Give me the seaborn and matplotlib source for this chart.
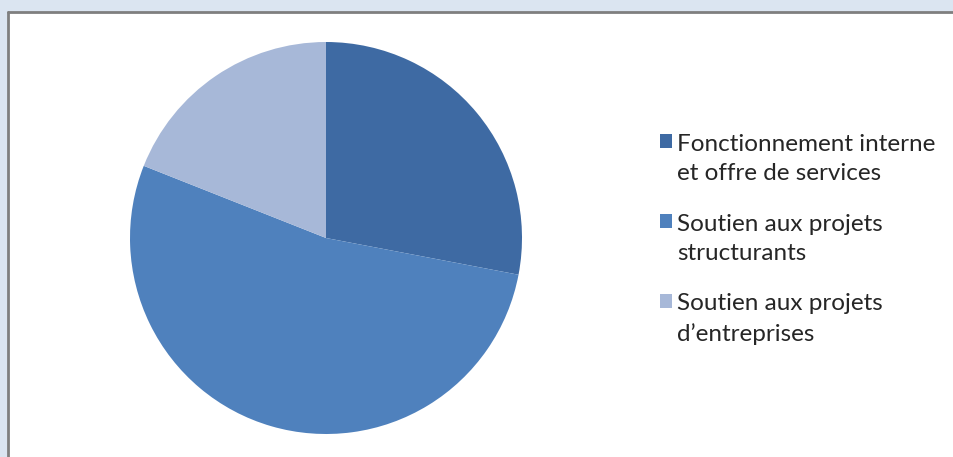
import matplotlib
matplotlib.use("Agg")
import matplotlib.pyplot as plt
import seaborn as sns
from matplotlib.patches import Patch, Rectangle
from matplotlib.lines import Line2D
from matplotlib.legend_handler import HandlerPatch

categories = [
    "Fonctionnement interne\net offre de services",
    "Soutien aux projets\nstructurants",
    "Soutien aux projets\nd\u2019entreprises",
]
shares = [28, 53, 19]
colors = ["#3e6aa3", "#4f81bd", "#a7b8d8"]


class TopLineSquare(HandlerPatch):
    # put the legend square next to the first line of a two-line label
    def create_artists(self, legend, orig_handle, xdescent, ydescent,
                       width, height, fontsize, trans):
        p = Rectangle((-xdescent, -ydescent + 0.74 * fontsize), width, height,
                      facecolor=orig_handle.get_facecolor(), edgecolor="none",
                      transform=trans)
        return [p]


sns.set_theme(style="white")
plt.rcParams["font.family"] = ["Lato", "DejaVu Sans"]

W, H = 954, 457
fig = plt.figure(figsize=(W / 100, H / 100), dpi=100, facecolor="#dbe5f1")

# white panel with grey top/left edge
fig.patches.append(Rectangle((8 / W, 0), 1, 1 - 12 / H, transform=fig.transFigure,
                             facecolor="white", edgecolor="none", zorder=-2))
fig.lines.append(Line2D([8 / W, 8 / W], [0, 1 - 12 / H], transform=fig.transFigure,
                        color="#7f7f7f", lw=2, zorder=-1))
fig.lines.append(Line2D([8 / W, 1], [1 - 12 / H, 1 - 12 / H], transform=fig.transFigure,
                        color="#7f7f7f", lw=2, zorder=-1))

cx, cy, r = 326, 238, 196
ax = fig.add_axes([(cx - r) / W, (H - cy - r) / H, 2 * r / W, 2 * r / H])
ax.pie(shares, colors=colors, startangle=90, counterclock=False, radius=1,
       wedgeprops=dict(linewidth=0))
ax.set_xlim(-1, 1)
ax.set_ylim(-1, 1)
ax.set_axis_off()

handles = [Patch(facecolor=c, edgecolor="none") for c in colors]
leg = fig.legend(handles, categories, loc="upper left",
                 bbox_to_anchor=(638 / W, 1 - 112 / H),
                 frameon=False, fontsize=17.5, handlelength=0.5, handleheight=0.5,
                 handletextpad=0.2, labelspacing=1.2, labelcolor="#262626",
                 handler_map={Patch: TopLineSquare()})
for t in leg.get_texts():
    t.set_linespacing(1.5)

fig.savefig("out.png", dpi=100, facecolor=fig.get_facecolor())
